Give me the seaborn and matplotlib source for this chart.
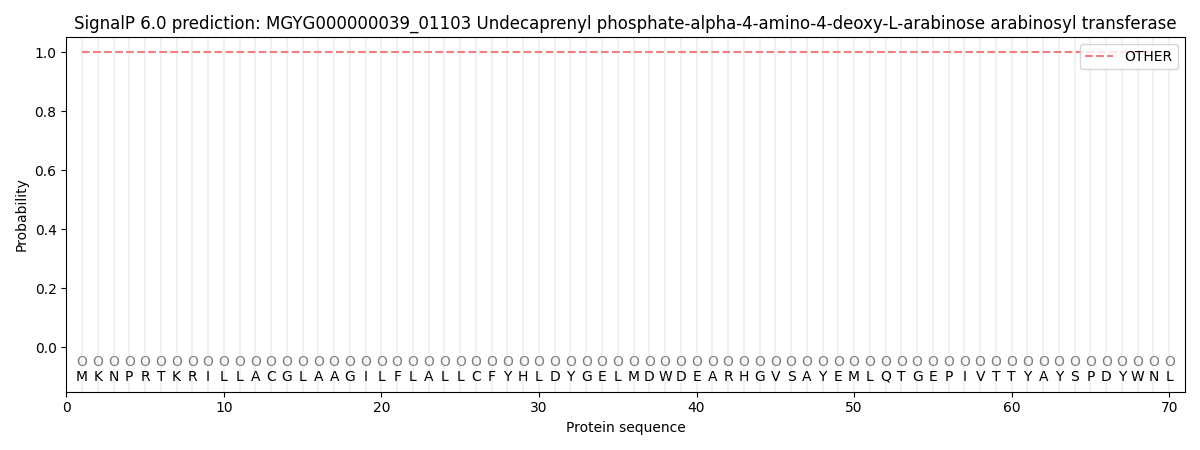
import seaborn as sns
import pandas as pd
import matplotlib.pyplot as plt

sequence = list("MKNPRTKRILLACGLAAGILFLALLCFYHLDYGELMDWDEARHGVSAYEMLQTGEPIVTTYAYSPDYWNL")
positions = list(range(1, len(sequence) + 1))
prob_other = [1.0] * len(sequence)
pred_labels = ["O"] * len(sequence)

df = pd.DataFrame({'pos': positions, 'OTHER': prob_other})

fig, ax = plt.subplots(figsize=(12, 4.5), dpi=100)

# linhas verticais por residuo
for p in positions:
    ax.axvline(p, color='#e8e8e8', linewidth=1.2, alpha=0.7, zorder=0)

sns.lineplot(x='pos', y='OTHER', data=df, ax=ax, color='#f08080', linestyle='--',
             linewidth=1.5, label='OTHER')

for p, aa, lab in zip(positions, sequence, pred_labels):
    ax.text(p, -0.05, lab, ha='center', va='center', fontsize=10, color='grey')
    ax.text(p, -0.1, aa, ha='center', va='center', fontsize=10, color='black')

ax.set_xlim(0, 71)
ax.set_ylim(-0.15, 1.05)
ax.set_xlabel('Protein sequence')
ax.set_ylabel('Probability')
ax.set_title('SignalP 6.0 prediction: MGYG000000039_01103 Undecaprenyl phosphate-alpha-4-amino-4-deoxy-L-arabinose arabinosyl transferase')
ax.legend(loc='upper right')
plt.tight_layout()
plt.savefig('out.png')
